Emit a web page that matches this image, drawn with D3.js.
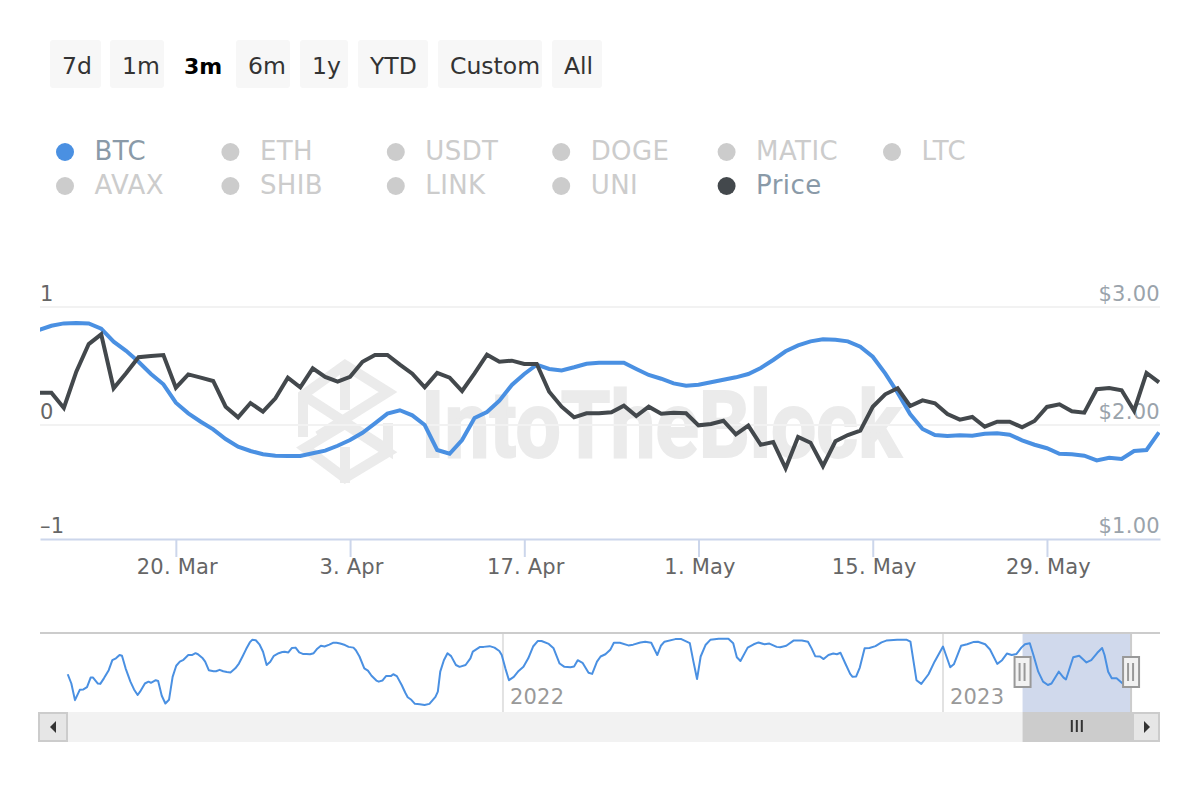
<!DOCTYPE html>
<html>
<head>
<meta charset="utf-8">
<script src="https://cdn.jsdelivr.net/npm/d3@7"></script>
<style>
  body { margin: 0; background: #fff; }
  svg { display: block; }
  text { font-family: "DejaVu Sans", sans-serif; }
  .grid line { stroke: #f2f2f2; stroke-width: 2; }
  .axis--x .domain { stroke: #ccd6eb; stroke-width: 2; }
  .axis--x line { stroke: #ccd6eb; stroke-width: 2; }
  .axis--x text { fill: #666; font-size: 21px; letter-spacing: .2px; }
  .axis--y .domain, .axis--y line { display: none; }
  .axis--y text { font-size: 21px; letter-spacing: .3px; }
</style>
</head>
<body>
<svg width="1200" height="800"></svg>
<script>
// range buttons and legend
var ranges = ["7d", "1m", "3m", "6m", "1y", "YTD", "Custom", "All"],
    activeRange = "3m",
    legendRow1 = ["BTC", "ETH", "USDT", "DOGE", "MATIC", "LTC"],
    legendRow2 = ["AVAX", "SHIB", "LINK", "UNI", "Price"],
    legendOn = {BTC: "#4a90e2", Price: "#43484c"};

// main chart, one value a day from 9 Mar 2023
var startDate = "2023-03-09";
var corrValues = [.805,.841,.861,.864,.861,.816,.706,.629,.536,.432,.345,.189,.099,.028,-.038,-.123,-.19,-.228,-.257,-.269,-.272,-.272,-.248,-.225,-.182,-.132,-.068,.014,.096,.125,.082,0,-.219,-.252,-.132,.059,.11,.206,.339,.432,.511,.475,.463,.489,.519,.528,.528,.528,.475,.424,.392,.353,.333,.342,.362,.384,.404,.432,.483,.551,.625,.675,.709,.726,.723,.709,.664,.579,.438,.274,.093,-.035,-.088,-.096,-.09,-.094,-.076,-.073,-.085,-.134,-.173,-.204,-.252,-.257,-.269,-.31,-.287,-.298,-.228,-.219,-.064];
var priceValues = [2.274,2.274,2.144,2.452,2.686,2.768,2.311,2.438,2.574,2.584,2.593,2.316,2.429,2.402,2.373,2.155,2.065,2.186,2.113,2.226,2.401,2.319,2.48,2.407,2.367,2.409,2.536,2.593,2.593,2.511,2.435,2.319,2.441,2.401,2.288,2.438,2.596,2.536,2.545,2.517,2.517,2.282,2.155,2.065,2.099,2.099,2.108,2.164,2.076,2.155,2.096,2.104,2.099,1.997,2.008,2.036,1.918,1.994,1.827,1.851,1.62,1.895,1.845,1.64,1.857,1.912,1.95,2.155,2.26,2.311,2.161,2.209,2.184,2.093,2.045,2.068,1.985,2.028,2.028,1.98,2.034,2.153,2.175,2.116,2.104,2.303,2.314,2.294,2.121,2.441,2.362];
var xTickDates = ["2023-03-20", "2023-04-03", "2023-04-17", "2023-05-01", "2023-05-15", "2023-05-29"];
var corrTicks = [-1, 0, 1],
    priceTicks = [1, 2, 3];

// navigator, days since 1 Jan 2021 and the correlation on that day
var navDays = [4,7,10,14,17,20,23,25,29,31,34,38,41,44,47,49,52,56,59,62,64,68,71,73,77,79,82,85,88,91,94,97,100,104,107,110,112,116,118,121,125,127,130,133,136,139,143,146,149,152,155,157,160,163,166,169,172,175,179,182,184,187,190,193,196,199,202,205,208,211,214,217,221,224,227,230,234,237,241,243,246,250,253,256,260,262,265,268,272,274,277,281,284,286,289,292,296,300,304,309,311,313,316,319,322,326,329,334,338,340,346,349,354,358,362,364,367,370,374,378,382,386,390,394,397,403,407,412,416,421,424,427,431,436,439,443,446,450,454,457,462,469,473,479,483,488,493,496,499,508,513,520,523,526,529,533,537,544,552,556,559,562,568,573,577,582,586,592,595,600,606,613,618,621,624,628,631,635,639,642,645,649,653,655,658,661,665,669,674,679,683,692,700,703,708,712,718,723,730,736,739,745,750,755,759,765,769,775,779,783,787,791,795,798,802,805,809,813,817,820,826,830,832,838,843,849,853,858,862,864,867,870,874,879,887];
var navValues = [.02,-.23,-.68,-.4,-.39,-.33,-.07,-.07,-.23,-.24,-.09,.13,.4,.45,.54,.52,.18,-.18,-.39,-.54,-.45,-.23,-.18,-.21,-.14,-.16,-.56,-.77,-.67,-.05,.25,.36,.41,.54,.54,.59,.56,.45,.36,.13,.1,.1,.14,.1,.08,.07,.18,.31,.5,.7,.88,.95,.94,.83,.63,.27,.36,.52,.59,.62,.63,.61,.73,.74,.61,.57,.57,.56,.59,.71,.79,.77,.82,.87,.87,.85,.81,.76,.74,.67,.5,.18,.12,-.02,-.15,-.18,-.15,-.03,-.03,.02,-.03,-.27,-.48,-.6,-.67,-.78,-.79,-.81,-.78,-.59,-.45,.09,.4,.59,.51,.27,.22,.27,.45,.63,.76,.76,.78,.74,.65,.54,.18,-.14,-.05,.11,.22,.45,.77,.92,.92,.84,.72,.31,.22,.21,.23,.4,.33,.06,.03,.36,.5,.56,.68,.87,.87,.8,.82,.88,.9,.87,.54,.79,.9,.97,.97,.86,.36,-.11,.5,.81,.95,.98,.98,.86,.48,.38,.74,.83,.88,.83,.85,.76,.75,.79,.93,.93,.9,.72,.51,.5,.43,.54,.58,.56,.6,.31,.03,-.05,-.04,.2,.72,.73,.78,.88,.93,.95,.95,.9,-.14,-.24,.02,.36,.77,.21,.29,.79,.83,.89,.9,.83,.69,.3,.4,.58,.54,.57,.74,.83,.86,.54,.09,-.18,-.27,-.23,.09,-.07,-.12,.48,.52,.34,.4,.6,.73,.54,.09,-.09,-.09,-.23,-.06];
var navTickDates = ["2022-01-01", "2023-01-01"];

var svg = d3.select("svg");

var day0 = d3.isoParse(startDate),
    mainDates = corrValues.map(function(d, i) { return d3.utcDay.offset(day0, i); }),
    navStart = d3.isoParse("2021-01-01"),
    navDates = navDays.map(function(d) { return d3.utcDay.offset(navStart, d); });

var plot = {left: 40, right: 1160, top: 307, zero: 425, bottom: 539};

// ---- buttons
var btnX = [50, 110, 174, 236, 300, 358, 438, 552],
    btnW = [51, 54, 52, 54, 48, 70, 104, 50];

var btn = svg.append("g").selectAll("g").data(ranges).join("g")
    .attr("transform", function(d, i) { return "translate(" + btnX[i] + ",40)"; });

btn.append("rect")
    .attr("width", function(d, i) { return btnW[i]; })
    .attr("height", 48)
    .attr("rx", 3)
    .attr("fill", function(d) { return d === activeRange ? "none" : "#f7f7f7"; });

btn.append("text")
    .attr("x", function(d) { return d === activeRange ? 10 : 12; })
    .attr("y", 34)
    .attr("font-size", function(d) { return d === activeRange ? 22 : 23.5; })
    .attr("font-weight", function(d) { return d === activeRange ? "bold" : "normal"; })
    .attr("fill", function(d) { return d === activeRange ? "#000" : "#333"; })
    .text(function(d) { return d; });

// ---- legend
function drawLegend(names, y) {
  var item = svg.append("g").selectAll("g").data(names).join("g")
      .attr("transform", function(d, i) { return "translate(" + (65 + i * 165.4) + "," + y + ")"; });
  item.append("circle")
      .attr("r", 9)
      .attr("fill", function(d) { return legendOn[d] || "#ccc"; });
  item.append("text")
      .attr("x", 29.5)
      .attr("y", 8)
      .attr("font-size", 26)
      .attr("letter-spacing", .4)
      .attr("fill", function(d) { return legendOn[d] ? "#8a9aa8" : "#ccc"; })
      .text(function(d) { return d; });
}
drawLegend(legendRow1, 152);
drawLegend(legendRow2, 186);

// ---- main chart
var x = d3.scaleUtc()
    .domain([new Date(Date.UTC(2023, 2, 9, 2)), new Date(Date.UTC(2023, 5, 7, 2))])
    .range([plot.left, plot.right]);

var yCorr = d3.scaleLinear()
    .domain(corrTicks)
    .range([plot.bottom, plot.zero, plot.top]);

var yPrice = d3.scaleLinear()
    .domain(priceTicks)
    .range([plot.bottom, plot.zero, plot.top]);

// watermark
var mark = svg.append("g")
    .attr("fill", "none")
    .attr("stroke", "#ebebeb")
    .attr("stroke-width", 10)
    .attr("stroke-linejoin", "miter");
mark.append("path").attr("d", "M303,437 L303,395 L345,365 L388,392 L318,436");
mark.append("path").attr("d", "M303,395 L388,450 L388,423");
mark.append("path").attr("d", "M345,362 L345,410 M345,447 L345,483");
mark.append("path").attr("d", "M305,448 L345,478 L388,452 L345,424 Z");
svg.append("text")
    .attr("x", 421)
    .attr("y", 457)
    .attr("font-size", 92)
    .style("font-family", "Roboto, sans-serif")
    .attr("font-weight", "bold")
    .attr("fill", "#ebebeb")
    .attr("stroke", "#ebebeb")
    .attr("stroke-width", 2)
    .attr("textLength", 480)
    .attr("lengthAdjust", "spacingAndGlyphs")
    .text("IntoTheBlock");

svg.append("g")
    .attr("class", "grid")
  .selectAll("line").data(corrTicks.slice(1)).join("line")
    .attr("x1", plot.left)
    .attr("x2", plot.right)
    .attr("y1", function(d) { return yCorr(d); })
    .attr("y2", function(d) { return yCorr(d); });

svg.append("g")
    .attr("class", "axis axis--x")
    .attr("transform", "translate(0," + plot.bottom + ")")
    .call(d3.axisBottom(x)
        .tickValues(xTickDates.map(d3.isoParse))
        .tickSize(18)
        .tickSizeOuter(0)
        .tickFormat(d3.utcFormat("%-d. %b")))
  .selectAll("text")
    .attr("y", 29)
    .attr("dy", ".71em")
    .attr("transform", "translate(1,-9)");

svg.append("g")
    .attr("class", "axis axis--y")
    .attr("transform", "translate(" + plot.left + ",0)")
    .call(d3.axisLeft(yCorr).tickValues(corrTicks).tickFormat(function(d) { return d3.format("d")(d).replace("\u2212", "\u2013"); }))
  .selectAll("text")
    .attr("x", 0)
    .attr("dy", -7)
    .attr("text-anchor", "start")
    .attr("fill", "#666");

svg.append("g")
    .attr("class", "axis axis--y")
    .attr("transform", "translate(" + plot.right + ",0)")
    .call(d3.axisRight(yPrice).tickValues(priceTicks).tickFormat(d3.format("$.2f")))
  .selectAll("text")
    .attr("x", 0)
    .attr("dy", -7)
    .attr("text-anchor", "end")
    .attr("fill", "#9aa3ab");

svg.append("defs").append("clipPath")
    .attr("id", "clip")
  .append("rect")
    .attr("x", plot.left)
    .attr("y", plot.top - 10)
    .attr("width", plot.right - plot.left)
    .attr("height", plot.bottom - plot.top + 10);

var lineCorr = d3.line()
    .x(function(d, i) { return x(mainDates[i]); })
    .y(function(d) { return yCorr(d); });

var linePrice = d3.line()
    .x(function(d, i) { return x(mainDates[i]); })
    .y(function(d) { return yPrice(d); });

var lines = svg.append("g").attr("clip-path", "url(#clip)").attr("fill", "none").attr("stroke-width", 4);
lines.append("path").datum(corrValues).attr("d", lineCorr).attr("stroke", "#4a90e2");
lines.append("path").datum(priceValues).attr("d", linePrice).attr("stroke", "#43484c");

// ---- navigator
var nav = {top: 633, bottom: 712};

var xNav = d3.scaleUtc()
    .domain([d3.isoParse("2020-12-13"), d3.isoParse("2023-06-30")])
    .range([plot.left, plot.right]);

var yNav = d3.scaleLinear()
    .domain([-1, 1])
    .range([nav.bottom, 638]);

// the band sits a little left of the dates in the reference
var selFrom = xNav(d3.utcDay.offset(mainDates[0], -1)),
    selTo = xNav(d3.utcDay.offset(mainDates[mainDates.length - 1], -1));

svg.append("rect")
    .attr("x", selFrom)
    .attr("y", nav.top)
    .attr("width", selTo - selFrom)
    .attr("height", nav.bottom - nav.top)
    .attr("fill", "#d0d9ec");

var navTicks = svg.append("g").selectAll("g").data(navTickDates.map(d3.isoParse)).join("g")
    .attr("transform", function(d) { return "translate(" + xNav(d) + ",0)"; });

navTicks.append("line")
    .attr("y1", nav.top)
    .attr("y2", nav.bottom)
    .attr("stroke", "#e2e2e2")
    .attr("stroke-width", 2);

navTicks.append("text")
    .attr("x", 7)
    .attr("y", 704)
    .attr("font-size", 21)
    .attr("letter-spacing", .2)
    .attr("fill", "#999")
    .text(d3.utcFormat("%Y"));

svg.append("path")
    .datum(navValues)
    .attr("fill", "none")
    .attr("stroke", "#4a90e2")
    .attr("stroke-width", 2)
    .attr("stroke-linejoin", "round")
    .attr("d", d3.line()
        .x(function(d, i) { return xNav(navDates[i]); })
        .y(function(d) { return yNav(d); }));

svg.append("line")
    .attr("x1", plot.left)
    .attr("x2", plot.right)
    .attr("y1", nav.top)
    .attr("y2", nav.top)
    .attr("stroke", "#ccc")
    .attr("stroke-width", 2);

svg.append("line")
    .attr("x1", selTo)
    .attr("x2", selTo)
    .attr("y1", nav.top)
    .attr("y2", nav.bottom)
    .attr("stroke", "#ccc")
    .attr("stroke-width", 2);

// handles
[selFrom, selTo].forEach(function(hx) {
  var h = svg.append("g").attr("transform", "translate(" + hx + ",0)");
  h.append("rect")
      .attr("x", -8)
      .attr("y", 657)
      .attr("width", 16)
      .attr("height", 30)
      .attr("fill", "#f2f2f2")
      .attr("stroke", "#999")
      .attr("stroke-width", 2);
  [-3, 2].forEach(function(dx) {
    h.append("line")
        .attr("x1", dx)
        .attr("x2", dx)
        .attr("y1", 663)
        .attr("y2", 681)
        .attr("stroke", "#999")
        .attr("stroke-width", 2);
  });
});

// scrollbar
svg.append("rect").attr("x", 38).attr("y", 712).attr("width", 1122).attr("height", 30).attr("fill", "#f2f2f2");
svg.append("rect")
    .attr("x", selFrom)
    .attr("y", 712)
    .attr("width", selTo - selFrom + 1)
    .attr("height", 30)
    .attr("fill", "#ccc");

[-5, 0, 5].forEach(function(dx) {
  var cx = (selFrom + selTo) / 2 + dx;
  svg.append("line")
      .attr("x1", cx)
      .attr("x2", cx)
      .attr("y1", 720)
      .attr("y2", 732)
      .attr("stroke", "#333")
      .attr("stroke-width", 2);
});

svg.append("rect").attr("x", 39).attr("y", 713).attr("width", 28).attr("height", 28)
    .attr("fill", "#e6e6e6").attr("stroke", "#ccc").attr("stroke-width", 2);
svg.append("rect").attr("x", 1133).attr("y", 713).attr("width", 26).attr("height", 28)
    .attr("fill", "#e6e6e6").attr("stroke", "#ccc").attr("stroke-width", 2);
svg.append("path").attr("d", "M50,727 L56,721 L56,733 Z").attr("fill", "#333");
svg.append("path").attr("d", "M1150,727 L1144,721 L1144,733 Z").attr("fill", "#333");
</script>
</body>
</html>
